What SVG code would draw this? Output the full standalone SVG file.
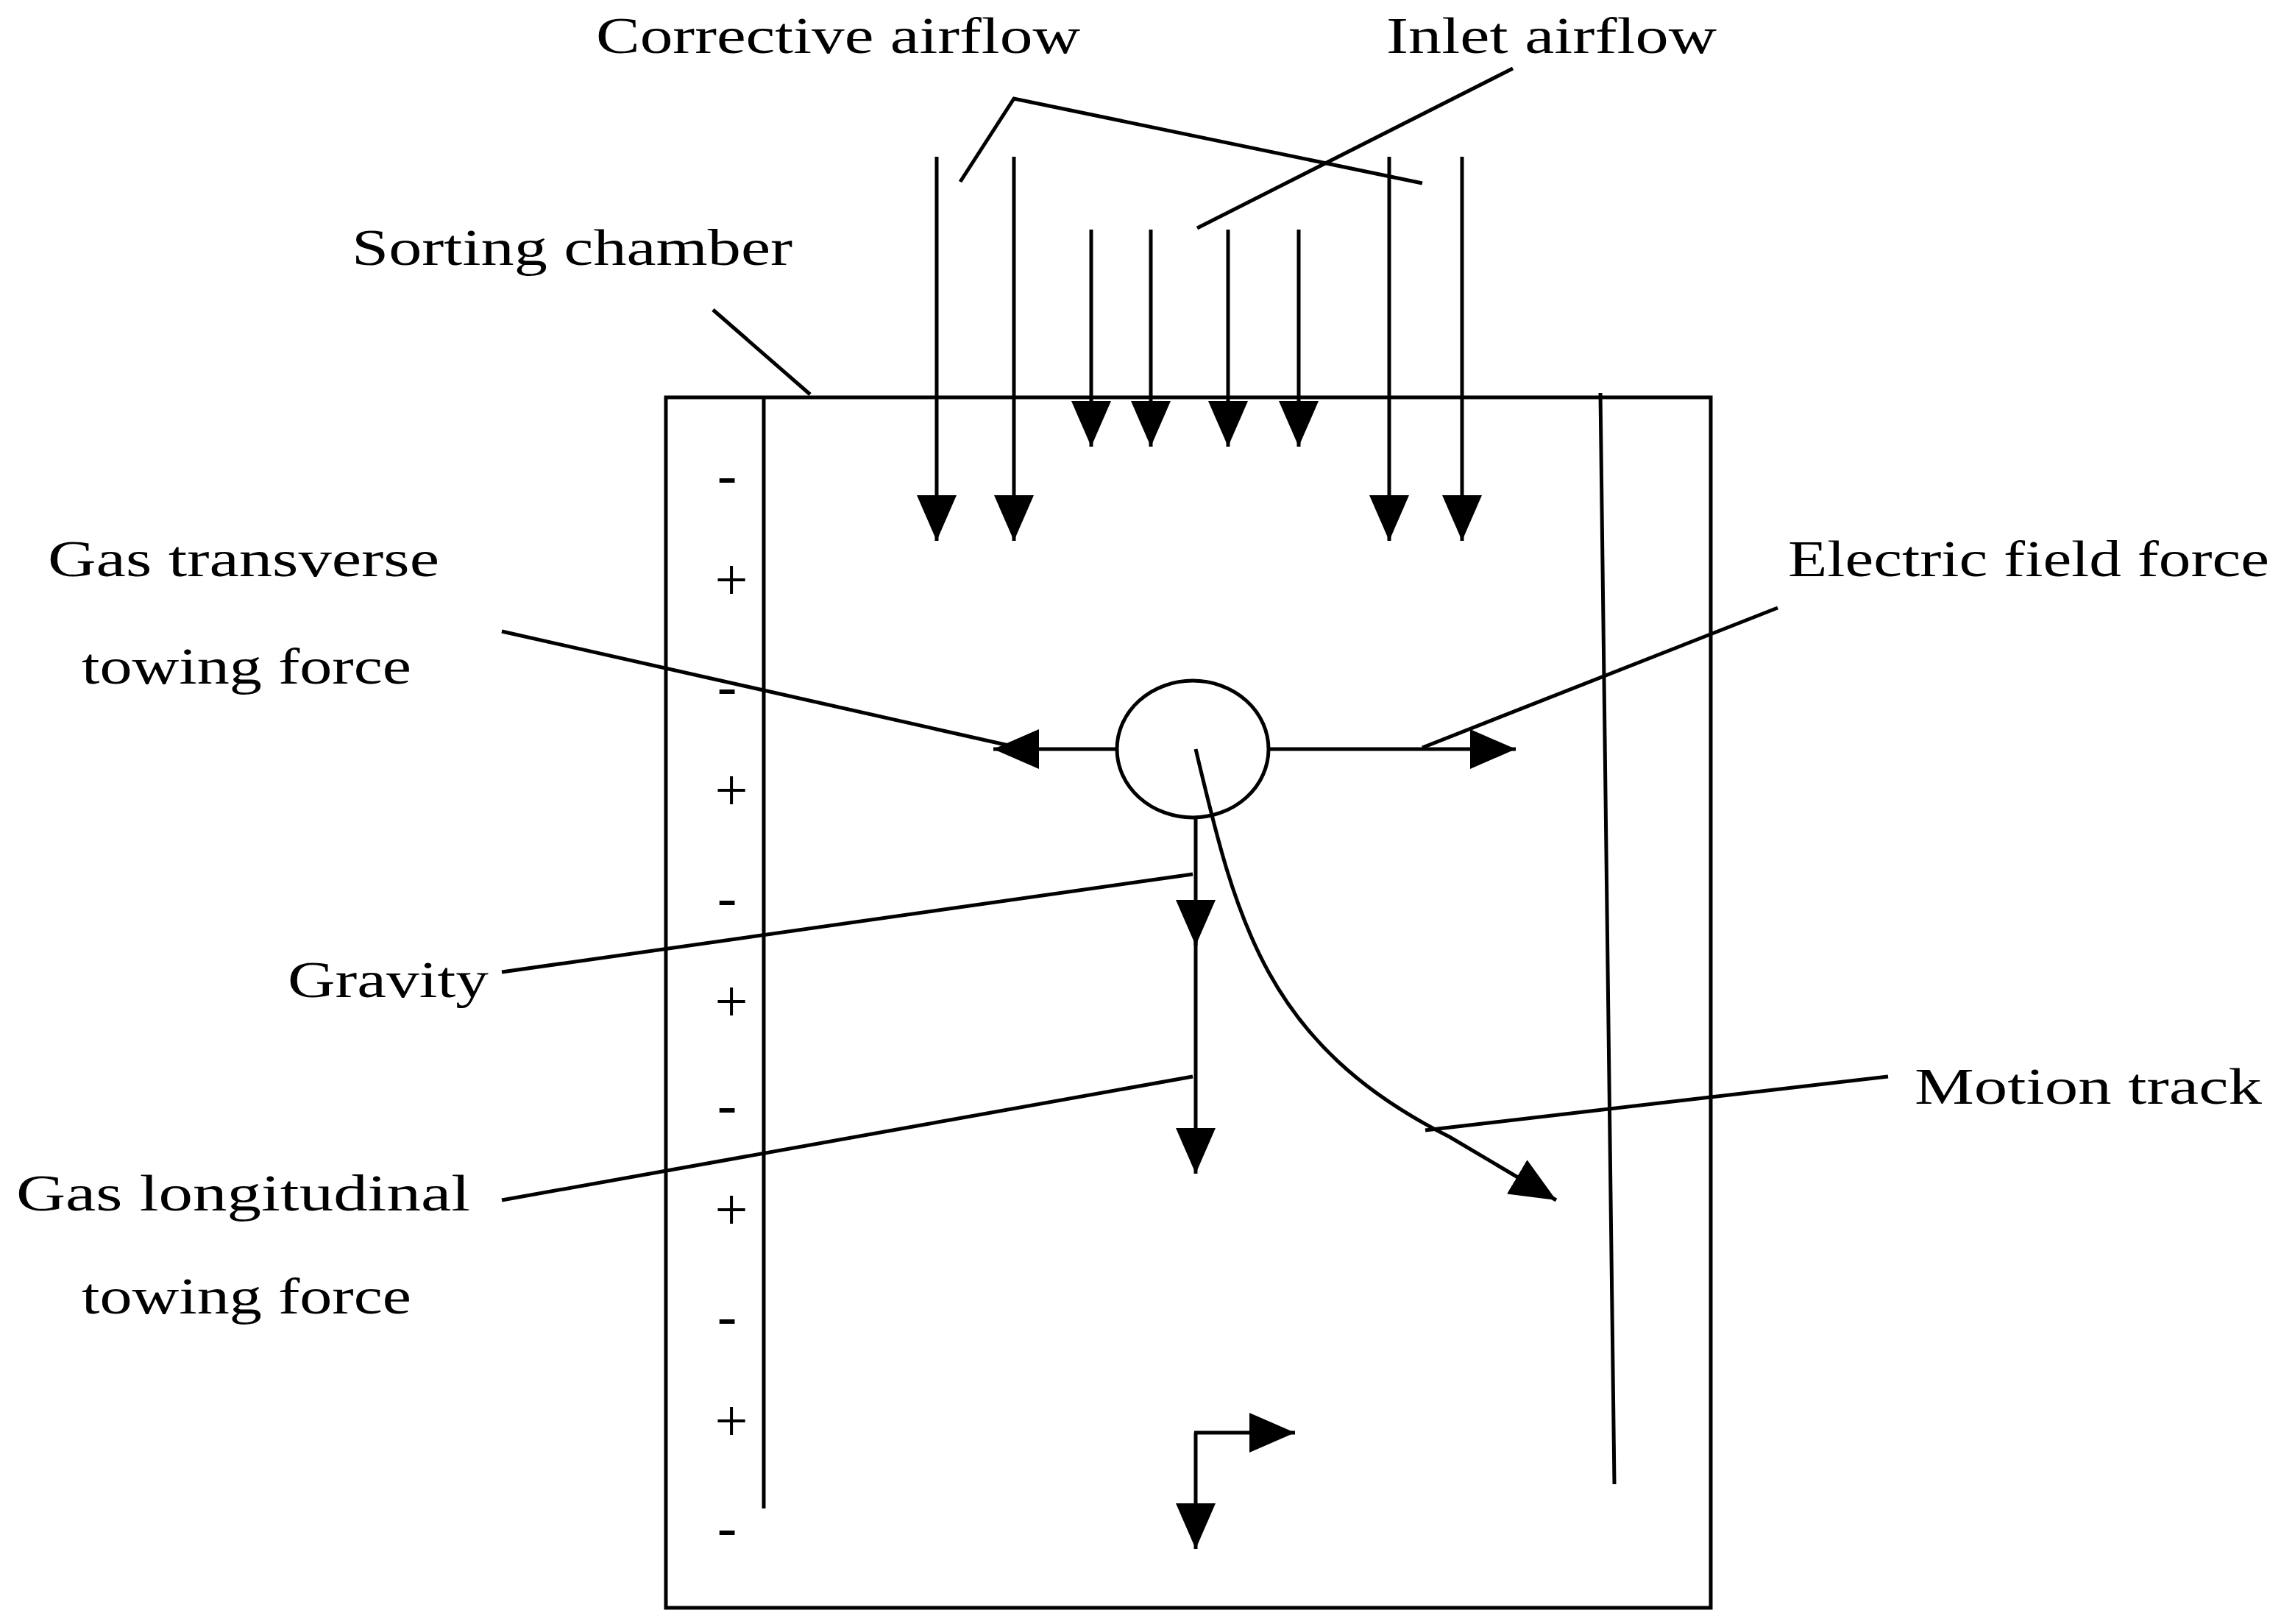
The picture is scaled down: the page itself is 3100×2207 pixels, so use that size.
<svg xmlns="http://www.w3.org/2000/svg" width="3100" height="2207" viewBox="0 0 3100 2207">
<style>
.l{stroke:#000;stroke-width:5;fill:none}
.t{font-family:"Liberation Serif",serif;font-size:70px;fill:#000}
.s{font-family:"Liberation Serif",serif;font-size:80px;fill:#000;text-anchor:middle}
</style>
<defs>
<marker id="a" markerUnits="userSpaceOnUse" markerWidth="62" markerHeight="54" viewBox="0 0 62 54" refX="62" refY="27" orient="auto">
<path d="M0 0L62 27L0 54Z" fill="#000"/>
</marker>
</defs>
<rect width="3100" height="2207" fill="#fff"/>
<g id="chamber">
<rect class="l" x="905" y="540" width="1420" height="1645"/>
<line class="l" x1="1038" y1="540" x2="1038" y2="2050"/>
<line class="l" x1="2175" y1="534" x2="2194" y2="2017"/>
</g>
<g id="signs">
<text class="s" x="988" y="672">-</text>
<text class="s" x="994" y="815">+</text>
<text class="s" x="988" y="959">-</text>
<text class="s" x="994" y="1101">+</text>
<text class="s" x="988" y="1246">-</text>
<text class="s" x="994" y="1388">+</text>
<text class="s" x="988" y="1528">-</text>
<text class="s" x="994" y="1671">+</text>
<text class="s" x="988" y="1815">-</text>
<text class="s" x="994" y="1958">+</text>
<text class="s" x="988" y="2102">-</text>
</g>
<g id="particle">
<ellipse class="l" cx="1621" cy="1018" rx="103" ry="93"/>
</g>
<g id="connectors">
<line class="l" x1="1273" y1="213" x2="1273" y2="735" marker-end="url(#a)"/>
<line class="l" x1="1378" y1="213" x2="1378" y2="735" marker-end="url(#a)"/>
<line class="l" x1="1888" y1="213" x2="1888" y2="735" marker-end="url(#a)"/>
<line class="l" x1="1987" y1="213" x2="1987" y2="735" marker-end="url(#a)"/>
<line class="l" x1="1483" y1="312" x2="1483" y2="607" marker-end="url(#a)"/>
<line class="l" x1="1564" y1="312" x2="1564" y2="607" marker-end="url(#a)"/>
<line class="l" x1="1669" y1="312" x2="1669" y2="607" marker-end="url(#a)"/>
<line class="l" x1="1765" y1="312" x2="1765" y2="607" marker-end="url(#a)"/>
<line class="l" x1="1518" y1="1018" x2="1350" y2="1018" marker-end="url(#a)"/>
<line class="l" x1="1724" y1="1018" x2="2060" y2="1018" marker-end="url(#a)"/>
<line class="l" x1="1625" y1="1111" x2="1625" y2="1285" marker-end="url(#a)"/>
<line class="l" x1="1625" y1="1240" x2="1625" y2="1595" marker-end="url(#a)"/>
<path class="l" d="M1625 1018 C1680 1250 1720 1420 1970 1545 L2115 1631" marker-end="url(#a)"/>
<line class="l" x1="1625" y1="1947" x2="1625" y2="2105" marker-end="url(#a)"/>
<line class="l" x1="1623" y1="1947" x2="1760" y2="1947" marker-end="url(#a)"/>
<polyline class="l" points="1305,247 1378,134 1933,249"/>
<line class="l" x1="2056" y1="93" x2="1627" y2="310"/>
<line class="l" x1="969" y1="421" x2="1101" y2="536"/>
<line class="l" x1="682" y1="858" x2="1384" y2="1016"/>
<line class="l" x1="2416" y1="826" x2="1933" y2="1016"/>
<line class="l" x1="682" y1="1321" x2="1621" y2="1188"/>
<line class="l" x1="682" y1="1631" x2="1621" y2="1463"/>
<line class="l" x1="2566" y1="1463" x2="1937" y2="1536"/>
</g>
<g id="labels">
<text class="t" x="810" y="72" textLength="658" lengthAdjust="spacingAndGlyphs">Corrective airflow</text>
<text class="t" x="1884" y="72" textLength="449" lengthAdjust="spacingAndGlyphs">Inlet airflow</text>
<text class="t" x="478" y="360" textLength="599" lengthAdjust="spacingAndGlyphs">Sorting chamber</text>
<text class="t" x="65" y="783" textLength="532" lengthAdjust="spacingAndGlyphs">Gas transverse</text>
<text class="t" x="111" y="929" textLength="448" lengthAdjust="spacingAndGlyphs">towing force</text>
<text class="t" x="2430" y="783" textLength="654" lengthAdjust="spacingAndGlyphs">Electric field force</text>
<text class="t" x="391" y="1355" textLength="273" lengthAdjust="spacingAndGlyphs">Gravity</text>
<text class="t" x="2602" y="1500" textLength="472" lengthAdjust="spacingAndGlyphs">Motion track</text>
<text class="t" x="22" y="1645" textLength="617" lengthAdjust="spacingAndGlyphs">Gas longitudinal</text>
<text class="t" x="111" y="1785" textLength="448" lengthAdjust="spacingAndGlyphs">towing force</text>
</g>
</svg>
